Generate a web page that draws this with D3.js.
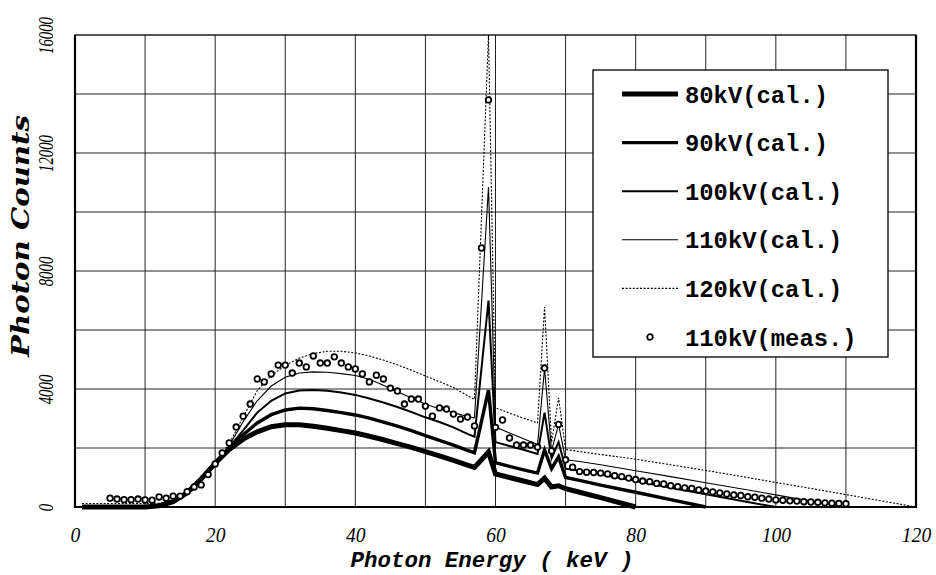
<!DOCTYPE html>
<html>
<head>
<meta charset="utf-8">
<script src="https://cdn.jsdelivr.net/npm/d3@7"></script>
<style>
  body { margin: 0; background: #fff; }
</style>
</head>
<body>
<div id="chart"></div>
<script>
// photon energies (keV) shared by the calculated spectra
const calcEnergies = [1, 2, 4, 6, 8, 10, 12, 14, 16, 18, 20, 22, 24, 26, 28, 30, 32, 34, 36, 38, 40,
  42, 44, 46, 48, 50, 52, 54, 56, 57, 58, 59, 60, 62, 64, 66, 67, 68, 69, 70, 72, 75, 80,
  85, 90, 95, 100, 105, 110, 115, 120];

// calculated spectra, one value per energy up to the tube voltage
const calc80kV = [0, 0, 0, 0, 0, 0, 40, 180, 480, 950, 1480,
  1950, 2300, 2550, 2720, 2790, 2790, 2740, 2670, 2590, 2510, 2400, 2280, 2150, 2020, 1880, 1730, 1580, 1420,
  1340, 1600, 1860, 1120, 1000, 880, 760, 980, 680, 720, 620, 500, 320, 0];
const calc90kV = [0, 0, 0, 0, 0, 0, 40, 180, 480, 950, 1480,
  2000, 2450, 2850, 3130, 3290, 3350, 3330, 3270, 3200, 3120, 3010, 2880, 2740, 2590, 2420, 2260, 2100, 1920,
  1840, 2900, 3960, 1500, 1380, 1260, 1150, 1930, 1300, 1700, 1000, 900, 740, 500, 250, 0];
const calc100kV = [0, 0, 0, 0, 0, 0, 40, 180, 480, 950, 1480,
  2030, 2600, 3200, 3600, 3850, 3950, 3970, 3940, 3880, 3800, 3680, 3540, 3390, 3220, 3040, 2880, 2700, 2480,
  2380, 4700, 7000, 2200, 2070, 1940, 1800, 3200, 1650, 2200, 1300, 1230, 1100, 880, 650, 430, 210, 0];
const calc110kV = [0, 0, 0, 0, 0, 0, 40, 180, 480, 950, 1480,
  2080, 2900, 3600, 4100, 4400, 4540, 4580, 4570, 4520, 4460, 4330, 4130, 3900, 3700, 3480, 3330, 3200, 3070,
  3020, 6900, 10850, 2710, 2510, 2310, 2120, 4700, 1900, 2800, 1600, 1540, 1430, 1230, 1030, 820, 620, 410, 200, 0];
const calc120kV = [120, 120, 120, 120, 120, 120, 130, 230, 520, 1000, 1520,
  2150, 3050, 3950, 4450, 4800, 5050, 5200, 5280, 5280, 5220, 5120, 4980, 4820, 4640, 4440, 4250, 4050, 3780,
  3650, 9800, 16000, 3360, 3180, 3010, 2850, 6780, 2200, 3700, 1950, 1880, 1780, 1620, 1430, 1240, 1040, 830, 630, 420, 210, 0];

// measured 110 kV spectrum
const measEnergies = [5, 6, 7, 8, 9, 10, 11, 12, 13, 14, 15, 16, 17, 18, 19, 20, 21, 22, 23, 24,
  25, 26, 27, 28, 29, 30, 31, 32, 33, 34, 35, 36, 37, 38, 39, 40, 41, 42, 43, 44,
  45, 46, 47, 48, 49, 50, 51, 52, 53, 54, 55, 56, 57, 58, 59, 60, 61, 62, 63, 64,
  65, 66, 67, 68, 69, 70, 71, 72, 73, 74, 75, 76, 77, 78, 79, 80, 81, 82, 83, 84,
  85, 86, 87, 88, 89, 90, 91, 92, 93, 94, 95, 96, 97, 98, 99, 100, 101, 102, 103, 104,
  105, 106, 107, 108, 109, 110];
const meas110kV = [300, 270, 250, 250, 270, 240, 230, 340, 300, 370,
  370, 520, 680, 750, 1100, 1460, 1830, 2170, 2710, 3080,
  3490, 4340, 4240, 4510, 4810, 4810, 4540, 4880, 4750, 5120,
  4880, 4880, 5090, 4880, 4750, 4680, 4510, 4240, 4470, 4340,
  4030, 3930, 3490, 3660, 3660, 3420, 3080, 3360, 3320, 3150,
  2980, 3050, 2750, 8780, 13800, 2700, 2950, 2340, 2100, 2100,
  2100, 2030, 4710, 1900, 2800, 1600, 1350, 1200, 1180, 1170,
  1150, 1120, 1060, 1030, 980, 930, 880, 860, 800, 780,
  720, 690, 650, 630, 580, 540, 510, 480, 440, 410,
  390, 350, 330, 300, 270, 240, 230, 210, 200, 180,
  170, 160, 140, 130, 120, 110];

const seriesNames = ["80kV(cal.)", "90kV(cal.)", "100kV(cal.)", "110kV(cal.)", "120kV(cal.)", "110kV(meas.)"];
const xTickLabels = [0, 20, 40, 60, 80, 100, 120];
const yTickLabels = [0, 4000, 8000, 12000, 16000];

const calcSeries = [calc80kV, calc90kV, calc100kV, calc110kV, calc120kV];
const lineStyles = [
  { width: 5, dash: null },
  { width: 3.4, dash: null },
  { width: 2, dash: null },
  { width: 1.1, dash: null },
  { width: 1.1, dash: "2,1.6" },
];

const width = 936;
const height = 575;

const x = d3.scaleLinear().domain([0, 120]).range([75, 916]);
const y = d3.scaleLinear().domain([0, 16000]).range([507, 35]);

const svg = d3
  .select("#chart")
  .append("svg")
  .attr("width", width)
  .attr("height", height)
  .attr("viewBox", [0, 0, width, height]);

svg.append("rect").attr("width", width).attr("height", height).attr("fill", "white");

// grid
const grid = svg.append("g").attr("stroke", "#222").attr("stroke-width", 1);
grid
  .selectAll("line.v")
  .data(x.ticks(12).slice(1, -1))
  .join("line")
  .attr("class", "v")
  .attr("x1", (d) => x(d))
  .attr("x2", (d) => x(d))
  .attr("y1", y(0))
  .attr("y2", y(16000));
grid
  .selectAll("line.h")
  .data(y.ticks(8).slice(1, -1))
  .join("line")
  .attr("class", "h")
  .attr("x1", x(0))
  .attr("x2", x(120))
  .attr("y1", (d) => y(d))
  .attr("y2", (d) => y(d));

// frame
svg
  .append("rect")
  .attr("x", x(0))
  .attr("y", y(16000))
  .attr("width", x(120) - x(0))
  .attr("height", y(0) - y(16000))
  .attr("fill", "none")
  .attr("stroke", "#111")
  .attr("stroke-width", 1.4);
svg
  .append("path")
  .attr("d", `M${x(0)},${y(16000)}V${y(0)}H${x(120)}V${y(16000)}`)
  .attr("fill", "none")
  .attr("stroke", "#000")
  .attr("stroke-width", 2.2);

// x axis labels
const xAxis = svg
  .append("g")
  .attr("transform", `translate(0,${y(0)})`)
  .call(d3.axisBottom(x).tickValues(xTickLabels).tickSize(0).tickFormat(d3.format("d")));
xAxis.select(".domain").remove();
xAxis
  .selectAll("text")
  .attr("y", 35)
  .attr("dy", 0)
  .attr("font-family", "'Liberation Serif', serif")
  .attr("font-style", "italic")
  .attr("font-size", 22)
  .attr("fill", "#000")
  .attr("textLength", (d) => String(d).length * 9.8)
  .attr("lengthAdjust", "spacingAndGlyphs");

// y axis labels, rotated
const yAxis = svg
  .append("g")
  .attr("transform", `translate(${x(0)},0)`)
  .call(d3.axisLeft(y).tickValues(yTickLabels).tickSize(0).tickFormat(d3.format("d")));
yAxis.select(".domain").remove();
yAxis
  .selectAll("text")
  .attr("x", null)
  .attr("dy", null)
  .attr("text-anchor", "middle")
  .attr("transform", "translate(-22,0) rotate(-90)")
  .attr("font-family", "'Liberation Serif', serif")
  .attr("font-style", "italic")
  .attr("font-size", 21)
  .attr("fill", "#000")
  .attr("textLength", (d) => String(d).length * 7.4)
  .attr("lengthAdjust", "spacingAndGlyphs");

// axis titles
svg
  .append("text")
  .text("Photon Energy ( keV )")
  .attr("x", 492)
  .attr("y", 567)
  .attr("text-anchor", "middle")
  .attr("font-family", "'Liberation Mono', monospace")
  .attr("font-weight", "bold")
  .attr("font-style", "italic")
  .attr("font-size", 22)
  .attr("textLength", 283)
  .attr("lengthAdjust", "spacingAndGlyphs");

svg
  .append("text")
  .text("Photon Counts")
  .attr("transform", "translate(29,236) rotate(-90)")
  .attr("text-anchor", "middle")
  .attr("font-family", "'DejaVu Serif', serif")
  .attr("font-weight", "bold")
  .attr("font-style", "italic")
  .attr("font-size", 25)
  .attr("textLength", 242)
  .attr("lengthAdjust", "spacingAndGlyphs");

// calculated spectra
const line = d3
  .line()
  .x((d) => x(d[0]))
  .y((d) => y(d[1]));

const plot = svg.append("g");
plot
  .selectAll("path")
  .data(calcSeries)
  .join("path")
  .attr("d", (values) => line(values.map((v, i) => [calcEnergies[i], v])))
  .attr("fill", "none")
  .attr("stroke", "#000")
  .attr("stroke-linejoin", "miter")
  .attr("stroke-width", (d, i) => lineStyles[i].width)
  .attr("stroke-dasharray", (d, i) => lineStyles[i].dash);

// measured points
plot
  .append("g")
  .selectAll("circle")
  .data(meas110kV.map((v, i) => [measEnergies[i], v]))
  .join("circle")
  .attr("cx", (d) => x(d[0]))
  .attr("cy", (d) => y(d[1]))
  .attr("r", 2.8)
  .attr("fill", "white")
  .attr("stroke", "#000")
  .attr("stroke-width", 1.8);

// legend
const legend = svg.append("g").attr("transform", "translate(593,70)");
legend
  .append("rect")
  .attr("width", 295)
  .attr("height", 287)
  .attr("fill", "white")
  .attr("stroke", "#111")
  .attr("stroke-width", 1.4);

const legendRow = legend
  .selectAll("g")
  .data(seriesNames)
  .join("g")
  .attr("transform", (d, i) => `translate(0,${24 + i * 48.6})`);

legendRow
  .filter((d, i) => i < 5)
  .append("line")
  .attr("x1", 29)
  .attr("x2", 85)
  .attr("stroke", "#000")
  .attr("stroke-width", (d, i) => lineStyles[i].width)
  .attr("stroke-dasharray", (d, i) => lineStyles[i].dash);

legendRow
  .filter((d, i) => i === 5)
  .append("circle")
  .attr("cx", 57)
  .attr("r", 2.8)
  .attr("fill", "white")
  .attr("stroke", "#000")
  .attr("stroke-width", 1.8);

legendRow
  .append("text")
  .text((d) => d)
  .attr("x", 92)
  .attr("dy", "0.36em")
  .attr("font-family", "'Liberation Mono', monospace")
  .attr("font-weight", "bold")
  .attr("font-size", 24)
  .attr("textLength", (d) => d.length * 14.3)
  .attr("lengthAdjust", "spacingAndGlyphs");
</script>
</body>
</html>
